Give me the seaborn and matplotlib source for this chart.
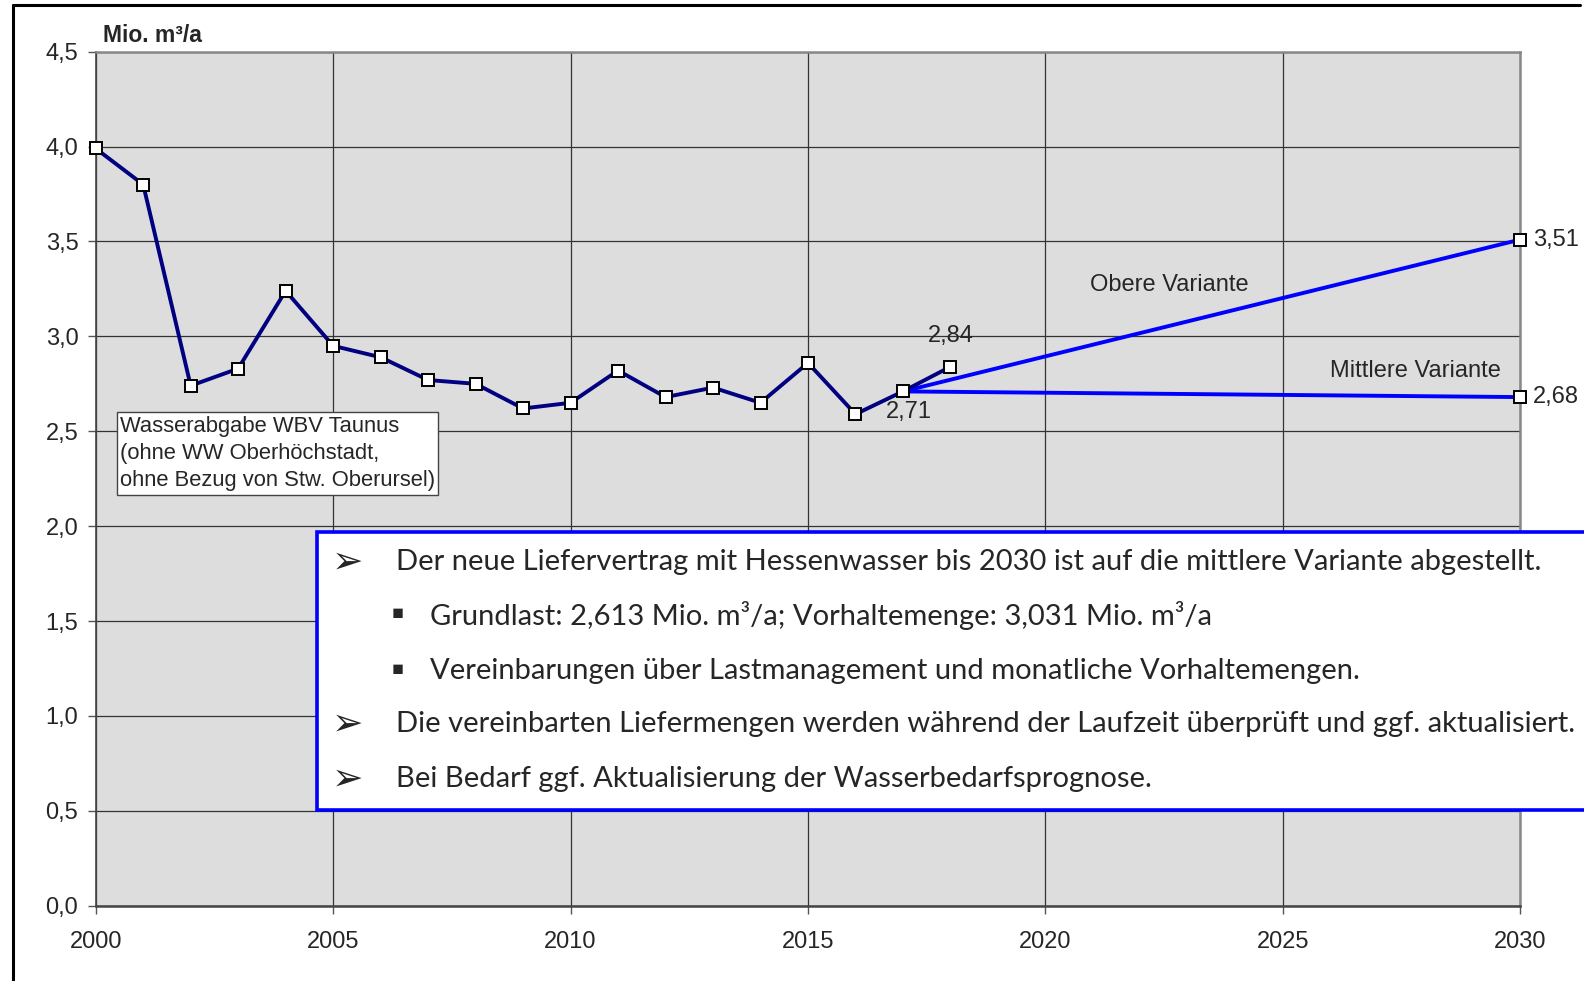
import matplotlib
matplotlib.use("Agg")
import matplotlib.pyplot as plt
import seaborn as sns
from matplotlib.lines import Line2D
from matplotlib.patches import Rectangle
from matplotlib.ticker import FuncFormatter, MultipleLocator

# Wasserabgabe WBV Taunus, Mio. m³/a
years = [2000, 2001, 2002, 2003, 2004, 2005, 2006, 2007, 2008, 2009,
         2010, 2011, 2012, 2013, 2014, 2015, 2016, 2017, 2018]
abgabe = [3.99, 3.80, 2.74, 2.83, 3.24, 2.95, 2.89, 2.77, 2.75, 2.62,
          2.65, 2.82, 2.68, 2.73, 2.65, 2.86, 2.59, 2.71, 2.84]

# Prognose ab 2017
prog_years = [2017, 2030]
obere = [2.71, 3.51]
mittlere = [2.71, 2.68]

box_lines = [
    ("arrow", "Der neue Liefervertrag mit Hessenwasser bis 2030 ist auf die mittlere Variante abgestellt."),
    ("square", "Grundlast: 2,613 Mio. m³/a; Vorhaltemenge: 3,031 Mio. m³/a"),
    ("square", "Vereinbarungen über Lastmanagement und monatliche Vorhaltemengen."),
    ("arrow", "Die vereinbarten Liefermengen werden während der Laufzeit überprüft und ggf. aktualisiert."),
    ("arrow", "Bei Bedarf ggf. Aktualisierung der Wasserbedarfsprognose."),
]

W, H = 1584, 981
sns.set_style("white")
plt.rcParams["font.family"] = ["Liberation Sans", "DejaVu Sans"]

fig = plt.figure(figsize=(W / 100, H / 100), dpi=100)
ax = fig.add_axes([95.7 / W, 1 - 905.7 / H, (1520.3 - 95.7) / W, (905.7 - 51.7) / H])
ax.set_facecolor("#dddddd")

marker_kw = dict(marker="s", markersize=8.5, markerfacecolor="white",
                 markeredgecolor="black", markeredgewidth=1.4)

sns.lineplot(x=prog_years, y=obere, ax=ax, color="#0000ff", lw=2.8, zorder=3)
sns.lineplot(x=prog_years, y=mittlere, ax=ax, color="#0000ff", lw=2.8, zorder=3)
ax.plot([prog_years[-1]] * 2, [obere[-1], mittlere[-1]], ls="none",
        zorder=5, clip_on=False, **marker_kw)
sns.lineplot(x=years, y=abgabe, ax=ax, color="#000080", lw=2.8, zorder=4,
             clip_on=False, **marker_kw)

ax.set_xlim(2000, 2030)
ax.set_ylim(0, 4.5)
ax.xaxis.set_major_locator(MultipleLocator(5))
ax.yaxis.set_major_locator(MultipleLocator(0.5))
ax.yaxis.set_major_formatter(FuncFormatter(lambda v, p: f"{v:.1f}".replace(".", ",")))
ax.grid(True, color="#333333", lw=0.9)
ax.set_axisbelow(True)
ax.tick_params(axis="y", direction="out", length=6, width=1, color="#555555",
               labelsize=17, pad=6.5, left=True)
ax.tick_params(axis="x", direction="out", length=5.5, width=1, color="#555555",
               labelsize=17, pad=13, bottom=True)
ax.set_xlabel("")
ax.set_ylabel("")
for side in ["top", "right"]:
    ax.spines[side].set_color("#888888")
    ax.spines[side].set_linewidth(1.8)
ax.spines["bottom"].set_color("#444444")
ax.spines["bottom"].set_linewidth(1.8)
ax.spines["left"].set_color("#444444")
ax.spines["left"].set_linewidth(1.2)

fmt = lambda v: f"{v:.2f}".replace(".", ",")
ax.annotate(fmt(abgabe[-1]), (years[-1], abgabe[-1]), xytext=(0, 22),
            textcoords="offset points", ha="center", va="center", fontsize=17)
ax.annotate(fmt(abgabe[-2]), (years[-2], abgabe[-2]), xytext=(4, -15),
            textcoords="offset points", ha="center", va="center", fontsize=17)
ax.annotate(fmt(obere[-1]), (prog_years[-1], obere[-1]), xytext=(9, 0),
            textcoords="offset points", ha="left", va="center", fontsize=17)
ax.annotate(fmt(mittlere[-1]), (prog_years[-1], mittlere[-1]), xytext=(9, 0),
            textcoords="offset points", ha="left", va="center", fontsize=17)
ax.text(2022.6, 3.27, "Obere Variante", ha="center", va="center", fontsize=17)
ax.text(2027.8, 2.82, "Mittlere Variante", ha="center", va="center", fontsize=17)

ax.text(2000.51, 2.383, "Wasserabgabe WBV Taunus\n(ohne WW Oberhöchstadt,\nohne Bezug von Stw. Oberursel)",
        ha="left", va="center", fontsize=15.8, linespacing=1.4,
        bbox=dict(boxstyle="square,pad=0.15", facecolor="white", edgecolor="#444444", lw=1))

fig.text(103 / W, 1 - 35 / H, "Mio. m³/a", ha="left", va="center",
         fontsize=16.5, fontweight="bold")

# Rahmen
fig.add_artist(Line2D([13 / W, 13 / W], [0, 1 - 5 / H], color="black", lw=2.2))
fig.add_artist(Line2D([13 / W, 1580 / W], [1 - 5 / H, 1 - 5 / H], color="black", lw=2.2))

# Textkasten
fig.add_artist(Rectangle((317 / W, 1 - 810 / H), (1620 - 317) / W, (810 - 532) / H,
                         transform=fig.transFigure, facecolor="white",
                         edgecolor="#0000ff", lw=2.6, zorder=10))
box_font = ["Lato", "DejaVu Sans"]
ys = [562, 615, 671, 724, 779]
for (kind, txt), yy in zip(box_lines, ys):
    if kind == "arrow":
        fig.text(348 / W, 1 - yy / H, "➢", family=box_font, fontsize=27,
                 ha="center", va="center", zorder=11)
        fig.text(396 / W, 1 - yy / H, txt, family=box_font, fontsize=21,
                 ha="left", va="center", zorder=11)
    else:
        fig.text(398 / W, 1 - yy / H, "▪", family=box_font, fontsize=25,
                 ha="center", va="center", zorder=11)
        fig.text(430 / W, 1 - yy / H, txt, family=box_font, fontsize=21,
                 ha="left", va="center", zorder=11)

fig.savefig("out.png", dpi=100)
